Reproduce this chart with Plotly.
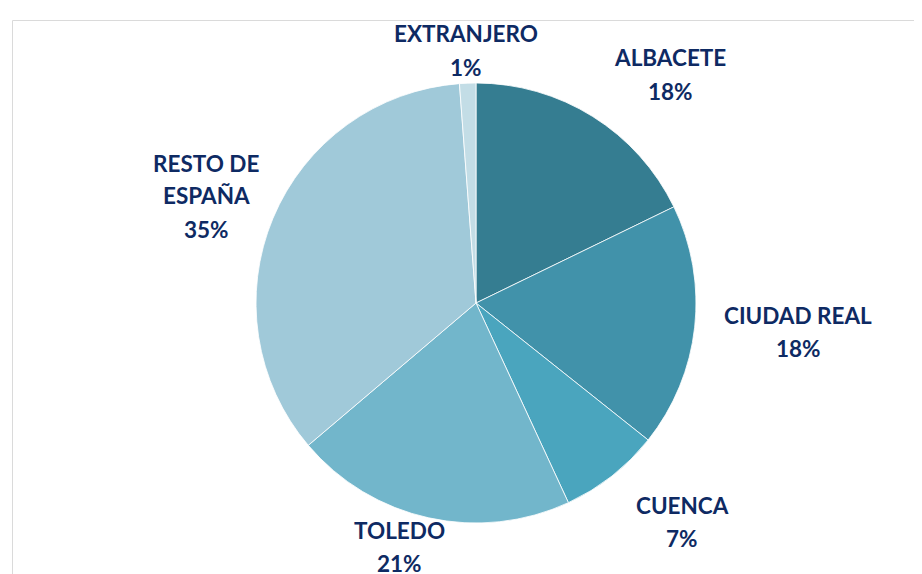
import plotly.graph_objects as go

labels = ["ALBACETE", "CIUDAD REAL", "CUENCA", "TOLEDO", "RESTO DE ESPAÑA", "EXTRANJERO"]
label_lines = [["ALBACETE"], ["CIUDAD REAL"], ["CUENCA"], ["TOLEDO"], ["RESTO DE", "ESPAÑA"], ["EXTRANJERO"]]
values = [17.8, 17.9, 7.4, 20.7, 35.0, 1.2]
pct_text = ["18%", "18%", "7%", "21%", "35%", "1%"]
colors = ["#357D91", "#4192AA", "#4AA5BE", "#72B6CB", "#A0C9D9", "#C3DDE6"]

W, H = 922, 574
dx, dy = -8, -8
fig = go.Figure(go.Pie(
    labels=labels, values=values, sort=False, direction="clockwise", rotation=0,
    marker=dict(colors=colors, line=dict(color="white", width=0.8)),
    textinfo="none", hoverinfo="label+percent", showlegend=False,
    domain=dict(x=[(256 + dx) / W, (696 + dx) / W], y=[1 - (523 + dy) / H, 1 - (83 + dy) / H]),
))

# label anchor positions (pixels: centre x, centre y of first line)
label_pos = [(662, 58), (790, 315), (674, 505), (391, 530), (198, 163), (458, 34)]
line_gap = 33
ty = -8
for lines, pt, (px, py) in zip(label_lines, pct_text, label_pos):
    for i, t in enumerate(lines + [pt]):
        fig.add_annotation(
            x=px / W, y=1 - (py + ty + i * line_gap) / H, xref="paper", yref="paper",
            xanchor="center", yanchor="middle", showarrow=False,
            text=f"<b>{t}</b>",
            font=dict(family="Lato, Open Sans, sans-serif", size=22.5, color="#0E2A63"),
        )

fig.add_shape(type="rect", xref="paper", yref="paper",
              x0=4.5 / W, x1=1.2, y0=-0.2, y1=1 - 12.5 / H,
              line=dict(color="#DADADA", width=1), fillcolor="rgba(0,0,0,0)")

fig.update_layout(
    width=W, height=H, margin=dict(l=0, r=0, t=0, b=0),
    paper_bgcolor="white", plot_bgcolor="white",
)
fig.write_html("out.html")
